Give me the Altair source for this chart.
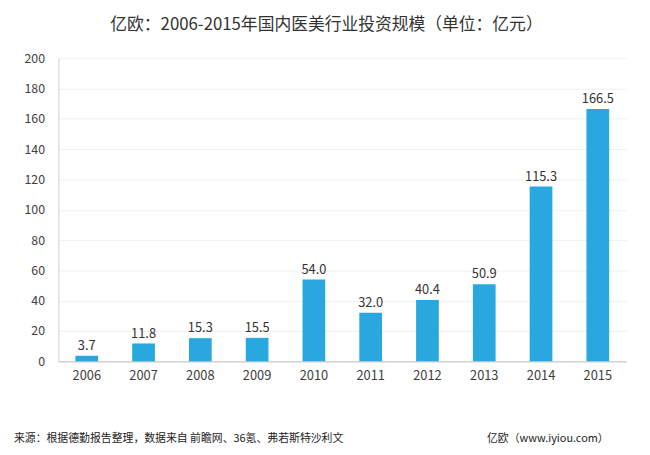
import altair as alt
import pandas as pd

years = ["2006", "2007", "2008", "2009", "2010", "2011", "2012", "2013", "2014", "2015"]
values = [3.7, 11.8, 15.3, 15.5, 54.0, 32.0, 40.4, 50.9, 115.3, 166.5]
title_text = "亿欧：2006-2015年国内医美行业投资规模（单位：亿元）"
source_text = "来源：根据德勤报告整理，数据来自 前瞻网、36氪、弗若斯特沙利文"
brand_text = "亿欧（www.iyiou.com）"

df = pd.DataFrame({"year": years, "value": values})
df["label"] = [f"{v:.1f}" for v in values]

FONT = "Noto Sans CJK SC"

x = alt.X("year:N", sort=years, title=None,
          scale=alt.Scale(paddingInner=0.6, paddingOuter=0.3),
          axis=alt.Axis(labelAngle=0, ticks=False, labelPadding=8, labelFontSize=13,
                        labelColor="#404040", domainColor="#bfbfbf", labelFont=FONT))
y = alt.Y("value:Q", title=None,
          scale=alt.Scale(domain=[0, 200], nice=False),
          axis=alt.Axis(tickCount=10, ticks=False, labelPadding=14,
                        labelOverlap=False, labelSeparation=0, labelFlush=False,
                        labelFontSize=12.5, labelColor="#404040", domainColor="#d0d0d0",
                        gridColor="#efefef", labelFont=FONT))

bars = alt.Chart(df).mark_bar(color="#29A8E0").encode(x=x, y=y)
labels = alt.Chart(df).mark_text(dy=-10, fontSize=13, color="#333333", font=FONT).encode(
    x=x, y=y, text="label:N")

foot_df = pd.DataFrame({"t": [source_text]})
foot = alt.Chart(foot_df).mark_text(align="left", baseline="middle", fontSize=11,
                                    color="#222222", font=FONT).encode(
    x=alt.value(-45), y=alt.value(386), text="t:N")
brand_df = pd.DataFrame({"t": [brand_text]})
brand = alt.Chart(brand_df).mark_text(align="left", baseline="middle", fontSize=11,
                                      color="#222222", font=FONT).encode(
    x=alt.value(434), y=alt.value(386), text="t:N")

chart = alt.layer(bars, labels, foot, brand).properties(
    width=575, height=307,
    title=alt.TitleParams(title_text, fontSize=17, font=FONT, fontWeight="normal",
                          color="#333333", offset=19, dx=-16, anchor="middle"),
    autosize=alt.AutoSizeParams(type="none"),
    padding={"left": 51, "top": 48, "right": 16, "bottom": 92},
).configure_view(stroke=None)

chart.save("out.html", embed_options={"renderer": "svg", "actions": False})
